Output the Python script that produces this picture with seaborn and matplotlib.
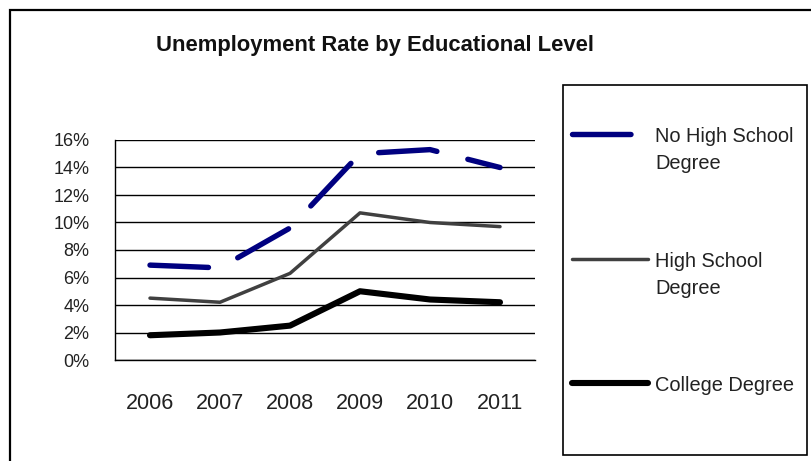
import numpy as np
import pandas as pd
import matplotlib
matplotlib.use("Agg")
import matplotlib.pyplot as plt
import seaborn as sns
from matplotlib.patches import Rectangle
from matplotlib.lines import Line2D
from matplotlib.ticker import FixedLocator, NullFormatter, FixedFormatter

years = ["2006", "2007", "2008", "2009", "2010", "2011"]
levels = ["No High School\nDegree", "High School\nDegree", "College Degree"]
no_hs = [6.9, 6.7, 9.6, 15.0, 15.3, 14.0]
hs = [4.5, 4.2, 6.3, 10.7, 10.0, 9.7]
college = [1.8, 2.0, 2.5, 5.0, 4.4, 4.2]
y_ticks = [0, 2, 4, 6, 8, 10, 12, 14, 16]
title = "Unemployment Rate by Educational Level"

colors = {levels[0]: "#000080", levels[1]: "#404040", levels[2]: "#000000"}
widths = {levels[0]: 3.9, levels[1]: 2.5, levels[2]: 4.4}
dashes = {levels[0]: (10.8, 5.9), levels[1]: "", levels[2]: ""}

pos = np.arange(len(years))
df = pd.concat([
    pd.DataFrame({"pos": pos, "rate": vals, "level": lvl})
    for lvl, vals in zip(levels, [no_hs, hs, college])
], ignore_index=True)

sns.set_style("white")
plt.rcParams["font.family"] = ["Liberation Sans", "DejaVu Sans"]

W, H = 811, 461
fig = plt.figure(figsize=(W / 100, H / 100), dpi=100)

def fx(x):
    return x / W

def fy(y):
    return 1 - y / H

ax = fig.add_axes([fx(115), fy(360), fx(535) - fx(115), fy(140) - fy(360)])
ax.set_axisbelow(True)
sns.lineplot(data=df, x="pos", y="rate", hue="level", palette=colors,
             size="level", sizes=widths, style="level", dashes=dashes,
             sort=False, legend=False, ax=ax)
for ln in ax.lines:
    ln.set_solid_capstyle("round")
    ln.set_dash_capstyle("round")
    ln.set_solid_joinstyle("round")
    ln.set_dash_joinstyle("round")

ax.set_xlim(-0.5, len(years) - 0.5)
ax.set_ylim(0, 16)
ax.set_xlabel("")
ax.set_ylabel("")
ax.yaxis.set_major_locator(FixedLocator(y_ticks))
ax.set_yticklabels([f"{v}%" for v in y_ticks])
ax.xaxis.set_major_locator(FixedLocator(np.arange(-0.5, len(years))))
ax.xaxis.set_major_formatter(NullFormatter())
ax.xaxis.set_minor_locator(FixedLocator(pos))
ax.xaxis.set_minor_formatter(FixedFormatter(years))
ax.tick_params(axis="x", which="major", direction="out", length=5, width=1, color="black")
ax.tick_params(axis="x", which="minor", length=0, pad=24, labelsize=15.5, labelcolor="#222222")
ax.tick_params(axis="y", direction="out", length=5, width=1, color="black", pad=13.5,
               labelsize=13, labelcolor="#222222")
ax.yaxis.grid(True, color="black", lw=1)
for s in ["top", "right"]:
    ax.spines[s].set_visible(False)
for s in ["left", "bottom"]:
    ax.spines[s].set_color("black")
    ax.spines[s].set_linewidth(1)

fig.text(fx(375), fy(45), title, ha="center", va="center", fontsize=15.8,
         fontweight="bold", color="#111111")

# outer chart frame
fig.patches.append(Rectangle((fx(10), -0.2), 1.5, fy(10) + 0.2, transform=fig.transFigure,
                             fill=False, edgecolor="black", lw=1.6, figure=fig))
# legend box
fig.patches.append(Rectangle((fx(563), fy(455)), fx(807) - fx(563), fy(85) - fy(455),
                             transform=fig.transFigure, fill=False, edgecolor="black",
                             lw=1.2, figure=fig))
ys = [134, 259, 383]
for lvl, yy in zip(levels, ys):
    ln = Line2D([fx(572), fx(648)], [fy(yy), fy(yy)], transform=fig.transFigure,
                color=colors[lvl], lw=widths[lvl], solid_capstyle="round",
                dash_capstyle="round")
    if dashes[lvl]:
        ln.set_linestyle((0, dashes[lvl]))
    fig.lines.append(ln)
    fig.text(fx(655), fy(yy - 7), lvl, ha="left", va="top", fontsize=14.4,
             color="#222222", linespacing=1.53)

fig.savefig("out.png", dpi=100)
